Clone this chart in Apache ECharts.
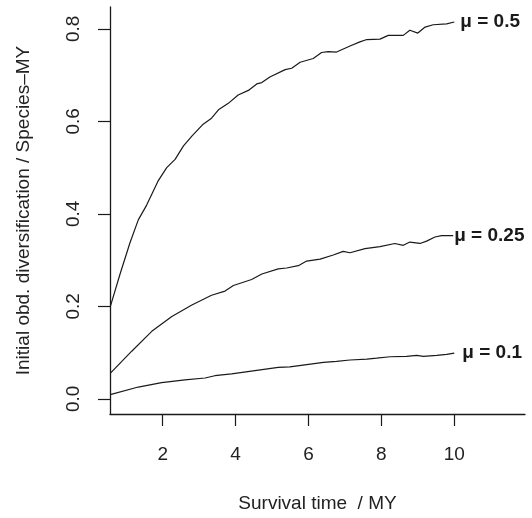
<!DOCTYPE html>
<html>
<head>
<meta charset="utf-8">
<script src="https://cdn.jsdelivr.net/npm/echarts@6/dist/echarts.min.js"></script>
<style>
html,body{margin:0;padding:0;background:#fff;}
#chart{width:532px;height:518px;}
</style>
</head>
<body>
<div id="chart"></div>
<script>
var seriesNames = ['\u03bc = 0.5', '\u03bc = 0.25', '\u03bc = 0.1'];

var x05 = [0.56,0.83,1.10,1.33,1.56,1.88,2.11,2.34,2.57,2.80,3.11,3.34,3.53,3.80,4.07,4.35,4.58,4.72,4.94,5.36,5.54,5.77,6.13,6.36,6.54,6.77,7.14,7.41,7.60,7.96,8.19,8.60,8.78,9.00,9.20,9.42,9.79,10.0];
var y05 = [0.199,0.270,0.337,0.387,0.419,0.472,0.500,0.518,0.547,0.568,0.594,0.607,0.625,0.639,0.657,0.667,0.681,0.684,0.696,0.712,0.715,0.728,0.736,0.749,0.751,0.750,0.763,0.772,0.777,0.778,0.786,0.786,0.797,0.791,0.804,0.809,0.811,0.815];

var x025 = [0.56,1.15,1.70,2.25,2.80,3.34,3.71,3.94,4.44,4.72,5.17,5.40,5.72,5.95,6.32,6.68,6.95,7.14,7.55,7.96,8.37,8.60,8.78,9.06,9.24,9.47,9.65,9.97];
var y025 = [0.055,0.103,0.146,0.178,0.203,0.224,0.233,0.245,0.258,0.270,0.281,0.283,0.288,0.298,0.302,0.311,0.319,0.316,0.325,0.329,0.336,0.332,0.339,0.336,0.341,0.350,0.353,0.353];

var x01 = [0.56,1.33,1.97,2.61,3.16,3.43,3.89,4.53,5.17,5.49,5.95,6.41,6.77,7.14,7.60,7.87,8.24,8.69,8.97,9.15,9.52,9.79,10.0];
var y01 = [0.009,0.0255,0.035,0.041,0.045,0.050,0.054,0.061,0.068,0.069,0.074,0.079,0.081,0.084,0.086,0.088,0.091,0.092,0.094,0.092,0.094,0.096,0.099];

var xTicks = [2, 4, 6, 8, 10];
var yTicks = [0.0, 0.2, 0.4, 0.6, 0.8];

var xTitle = 'Survival time  / MY';
var yTitle = 'Initial obd. diversification / Species\u2013MY';

function pairs(xs, ys) { return xs.map(function (x, i) { return [x, ys[i]]; }); }

var FONT = '"Liberation Sans", Arial, Helvetica, sans-serif';
var INK = '#1a1a1a';

function lineSeries(name, data, dist, off) {
  return {
    type: 'line', name: name, data: data, showSymbol: false, symbol: 'none',
    lineStyle: { color: INK, width: 1.2 }, animation: false, clip: false,
    endLabel: {
      show: true, formatter: name, distance: dist, offset: off,
      fontFamily: FONT, fontSize: 19, fontWeight: 'bold', color: INK
    }
  };
}

var chart = echarts.init(document.getElementById('chart'), null, { renderer: 'canvas' });
chart.setOption({
  backgroundColor: '#fff',
  animation: false,
  grid: { left: 110, right: 7, top: 7, bottom: 97.3, containLabel: false },
  xAxis: {
    type: 'value', min: 0.554, max: 11.94,
    splitLine: { show: false },
    axisLine: { show: true, onZero: false, lineStyle: { color: INK, width: 1.3 } },
    axisTick: { show: true, length: 12, inside: false, customValues: xTicks, lineStyle: { color: INK, width: 1.2 } },
    axisLabel: { customValues: xTicks, margin: 31, fontFamily: FONT, fontSize: 19, color: '#222' },
    name: xTitle, nameLocation: 'middle', nameGap: 80,
    nameTextStyle: { fontFamily: FONT, fontSize: 19, color: '#222' }
  },
  yAxis: {
    type: 'value', min: -0.0328, max: 0.8474,
    splitLine: { show: false },
    axisLine: { show: true, onZero: false, lineStyle: { color: INK, width: 1.3 } },
    axisTick: { show: true, length: 12, inside: false, customValues: yTicks, lineStyle: { color: INK, width: 1.2 } },
    axisLabel: {
      customValues: yTicks, margin: 27, rotate: 90, fontFamily: FONT, fontSize: 19, color: '#222',
      formatter: function (v) { return v.toFixed(1); }
    },
    name: yTitle, nameLocation: 'middle', nameGap: 77,
    nameTextStyle: { fontFamily: FONT, fontSize: 19, color: '#222' }
  },
  series: [
    lineSeries(seriesNames[0], pairs(x05, y05), 6, [0, 0]),
    lineSeries(seriesNames[1], pairs(x025, y025), 1, [0, 0]),
    lineSeries(seriesNames[2], pairs(x01, y01), 8, [0, 0])
  ]
});
</script>
</body>
</html>
